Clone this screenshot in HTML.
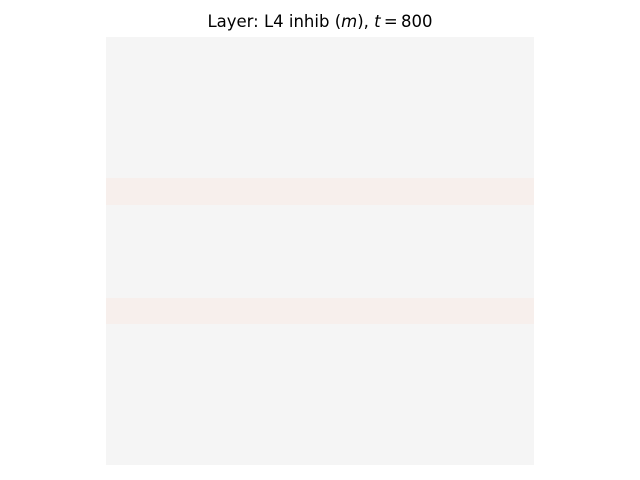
<!DOCTYPE html>
<html><head><style>
body{margin:0;width:640px;height:480px;background:#fff;position:relative;overflow:hidden;font-family:"DejaVu Sans","Liberation Sans",sans-serif;}
.t{position:absolute;top:12px;left:0;width:640px;text-align:center;font-size:16.5px;color:#000;white-space:nowrap;}
.img{position:absolute;left:106px;top:37px;width:428px;height:428px;background:#f5f5f5;}
.b{position:absolute;left:0;width:428px;background:#f7efec;}
</style></head><body>
<div class="t">Layer: L4 inhib (<i>m</i>), <i>t</i>&thinsp;=&thinsp;800</div>
<div class="img">
<div class="b" style="top:141px;height:27px"></div>
<div class="b" style="top:261px;height:26px"></div>
</div>
</body></html>
